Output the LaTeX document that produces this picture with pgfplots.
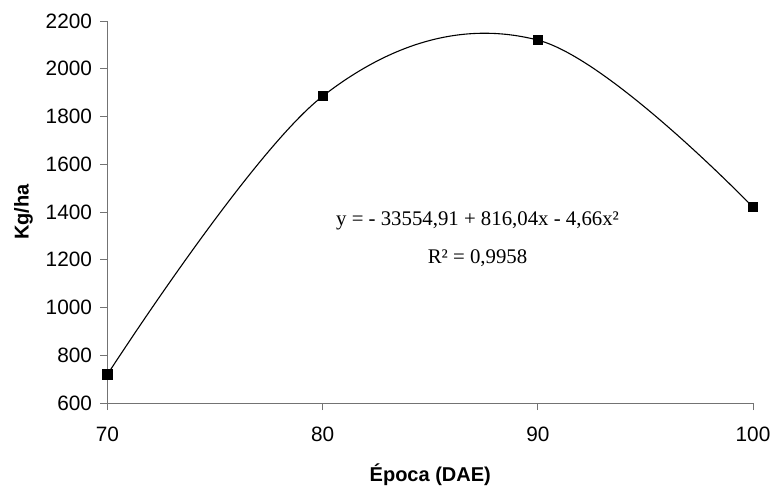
\documentclass[border=0pt]{standalone}
\usepackage{fontspec}
\setmainfont{Liberation Sans}
\newfontfamily\timesfont{Liberation Serif}
\usepackage{pgfplots}
\pgfplotsset{compat=1.18}
\begin{document}
\begin{tikzpicture}
\useasboundingbox (-107.5bp,-85bp) rectangle (665.5bp,403bp);
\begin{axis}[
  at={(0,0)}, anchor=south west,
  scale only axis,
  width=645.5bp, height=382bp,
  xmin=70, xmax=100, ymin=600, ymax=2200,
  xtick={70,80,90,100},
  ytick={600,800,...,2200},
  axis lines*=left,
  axis line style={draw=black!55, line width=0.9bp},
  tick style={draw=black!55, line width=0.9bp},
  tick align=outside,
  major tick length=7bp,
  /pgf/number format/assume math mode=true,
  /pgf/number format/1000 sep={},
  ticklabel style={font=\fontsize{20.8bp}{24bp}\selectfont},
  xticklabel style={yshift=-13bp},
  yticklabel style={xshift=-5bp},
  xlabel={\bfseries Época (DAE)},
  ylabel={\bfseries Kg/ha},
  label style={font=\fontsize{20bp}{24bp}\selectfont},
  xlabel style={at={(rel axis cs:0.5,0)}, anchor=center, yshift=-72bp},
  ylabel style={at={([xshift=-84bp]rel axis cs:0,0.5)}, anchor=center},
  clip=false,
]
\addplot[black, line width=1.1bp, smooth, tension=0.6,
  mark=square*, mark size=4.6bp, mark options={fill=black}]
  coordinates {(70,720) (80,1885) (90,2120) (100,1420)};
\node[font=\timesfont\fontsize{20.8bp}{24bp}\selectfont] at (axis cs:87.2,1365) {y = - 33554,91 + 816,04x - 4,66x²};
\node[font=\timesfont\fontsize{20.8bp}{24bp}\selectfont] at (axis cs:87.2,1207) {R² = 0,9958};
\end{axis}
\end{tikzpicture}
\end{document}
